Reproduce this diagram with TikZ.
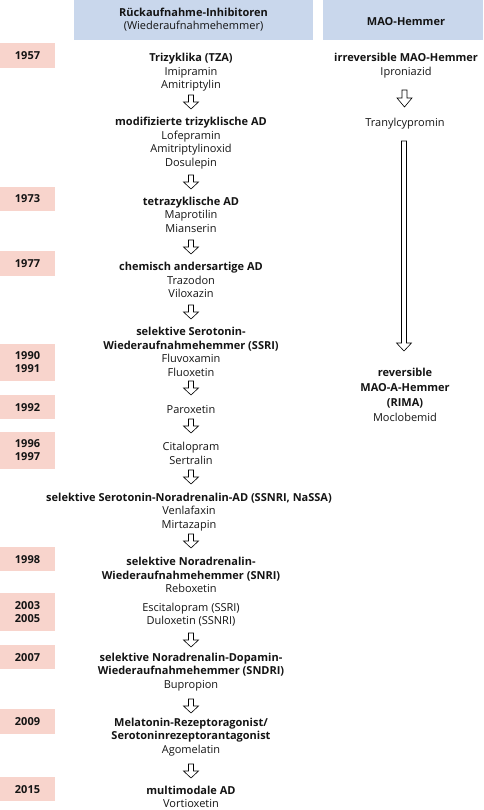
\documentclass[tikz,border=0pt]{standalone}
\usepackage{fontspec}
\setmainfont{Open Sans}
\definecolor{headblue}{RGB}{201,215,236}
\definecolor{yearpink}{RGB}{248,212,204}
\definecolor{txt}{RGB}{20,20,20}
\newcommand\blockarr[5]{% name, x, ytop, shaft length, head length
  \draw[blockarrow] (#2-2.5,#3) -- ++(5,0) -- ++(0,#4) -- ++(5,0) -- (#2,#3+#4+#5) -- (#2-7.5,#3+#4) -- ++(5,0) -- cycle;
  \coordinate (#1) at (#2,#3);}
\begin{document}
\begin{tikzpicture}[x=1pt,y=-1pt,
  every node/.style={inner sep=0pt,text=txt},
  blk/.style={align=center,font=\fontsize{11}{13.5}\selectfont,yshift=-1.8pt},
  head/.style={fill=headblue,minimum height=40pt,align=center,font=\fontsize{11}{13}\selectfont},
  yearbox/.style={fill=yearpink,minimum width=55pt,align=center,font=\fontsize{11}{13}\selectfont\bfseries},
  year1/.style={yearbox,text height=8pt,text depth=0pt},
  blockarrow/.style={draw=black,fill=white,line width=0.6pt,line join=miter}]
\useasboundingbox (0,0) rectangle (483,810);
% headers
\node[head,minimum width=239pt] (h1) at (193.5,20) {\textbf{Rückaufnahme-Inhibitoren}\\(Wiederaufnahmehemmer)};
\node[head,minimum width=160pt] (h2) at (403,20) {};
\node (h2t) at (406,22) {\fontsize{11}{13}\selectfont\textbf{MAO-Hemmer}};
% years
\node[year1,minimum height=25pt] (y1957) at (27.5,55.2) {1957};
\node[year1,minimum height=24pt] (y1973) at (27.5,199) {1973};
\node[year1,minimum height=25pt] (y1977) at (27.5,263.5) {1977};
\node[yearbox,minimum height=37pt] (y1990) at (27.5,362.5) {1990\\1991};
\node[year1,minimum height=24pt] (y1992) at (27.5,407) {1992};
\node[yearbox,minimum height=37pt] (y1996) at (27.5,450.5) {1996\\1997};
\node[year1,minimum height=24pt] (y1998) at (27.5,559) {1998};
\node[yearbox,minimum height=38pt] (y2003) at (27.5,612) {2003\\2005};
\node[year1,minimum height=24pt] (y2007) at (27.5,657) {2007};
\node[year1,minimum height=25pt] (y2009) at (27.5,721.5) {2009};
\node[year1,minimum height=24pt] (y2015) at (27.5,789) {2015};
% left column
\node[blk] (tza) at (191,70.5) {\textbf{Trizyklika (TZA)}\\Imipramin\\Amitriptylin};
\node[blk] (mod) at (191,141.5) {\textbf{modifizierte trizyklische AD}\\Lofepramin\\Amitriptylinoxid\\Dosulepin};
\node[blk] (tetra) at (191,213) {\textbf{tetrazyklische AD}\\Maprotilin\\Mianserin};
\node[blk] (chem) at (191,278.5) {\textbf{chemisch andersartige AD}\\Trazodon\\Viloxazin};
\node[blk] (ssri) at (191,350) {\textbf{selektive Serotonin-}\\\textbf{Wiederaufnahmehemmer (SSRI)}\\Fluvoxamin\\Fluoxetin};
\node[blk] (parox) at (191,408) {Paroxetin};
\node[blk] (cital) at (191,451.5) {Citalopram\\Sertralin};
\node[blk] (ssnri) at (189,510) {\textbf{selektive Serotonin-Noradrenalin-AD (SSNRI, NaSSA)}\\Venlafaxin\\Mirtazapin};
\node[blk] (snri) at (191,573.5) {\textbf{selektive Noradrenalin-}\\\textbf{Wiederaufnahmehemmer (SNRI)}\\Reboxetin};
\node[blk] (escit) at (191,613) {Escitalopram (SSRI)\\Duloxetin (SSNRI)};
\node[blk] (sndri) at (191,670) {\textbf{selektive Noradrenalin-Dopamin-}\\\textbf{Wiederaufnahmehemmer (SNDRI)}\\Bupropion};
\node[blk] (melat) at (191,735) {\textbf{Melatonin-Rezeptoragonist/}\\\textbf{Serotoninrezeptorantagonist}\\Agomelatin};
\node[blk] (multi) at (191,795) {\textbf{multimodale AD}\\Vortioxetin};
% right column
\node[blk] (irrev) at (406,64) {\textbf{irreversible MAO-Hemmer}\\Iproniazid};
\node[blk] (tranyl) at (405,121.5) {Tranylcypromin};
\node[blk,font=\fontsize{11}{15}\selectfont] (rima) at (405,393.5) {\textbf{reversible}\\\textbf{MAO-A-Hemmer}\\\textbf{(RIMA)}\\Moclobemid};
% arrows left
\blockarr{a1}{191}{95}{7}{7}
\blockarr{a2}{191}{175}{7}{7}
\blockarr{a3}{191}{240}{7}{7}
\blockarr{a4}{191}{305}{7}{7}
\blockarr{a5}{191}{381}{7}{7}
\blockarr{a6}{191}{419}{7}{7}
\blockarr{a7}{191}{470}{7}{7}
\blockarr{a8}{191}{534}{7}{7}
\blockarr{a9}{191}{633}{7}{7}
\blockarr{a10}{191}{699}{7}{7}
\blockarr{a11}{191}{764}{7}{7}
% arrows right
\blockarr{r1}{404.5}{90}{8}{9}
\blockarr{r2}{404}{141}{202}{8}
\end{tikzpicture}
\end{document}
